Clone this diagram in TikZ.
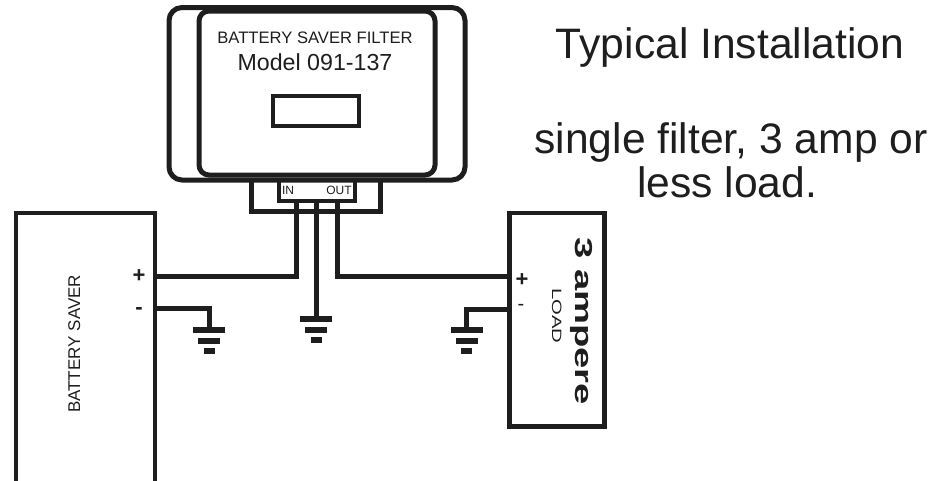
\documentclass[tikz,border=0pt]{standalone}
\usepackage{fontspec}
\setmainfont{Liberation Sans}
\definecolor{ink}{RGB}{30,30,30}
\tikzset{
  wire/.style={draw=ink, line width=5pt},
  thinbox/.style={draw=ink, line width=4pt, inner sep=0pt},
  lbl/.style={text=ink, inner sep=0pt},
  sign/.style={text=ink, inner sep=0pt, font=\bfseries\fontsize{22}{24}\selectfont},
  gnd/.pic={
    \fill[ink] (-16,0) rectangle (16,6);
    \fill[ink] (-11,10.5) rectangle (11,16.5);
    \fill[ink] (-5.5,21) rectangle (5.5,27);
  }
}
\begin{document}
\begin{tikzpicture}[x=1pt,y=-1pt]
\useasboundingbox (0,0) rectangle (942,480);
% filter housing
\node[draw=ink, line width=5pt, rounded corners=13pt, minimum width=296pt, minimum height=172.5pt, inner sep=0pt] (outer) at (317,93.75) {};
\node[draw=ink, line width=5pt, rounded corners=10pt, fill=white, minimum width=236pt, minimum height=164pt, inner sep=0pt] (inner) at (317,93) {};
\node[thinbox, minimum width=86pt, minimum height=30pt] (disp) at (316,111) {};
\node[lbl, anchor=base, font=\fontsize{16.6}{18}\selectfont] (title) at (315,43) {BATTERY SAVER FILTER};
\node[lbl, anchor=base, font=\fontsize{23.2}{25}\selectfont] (model) at (315,70) {Model 091-137};
% connector brackets
\coordinate (uL) at (251.5,180);
\coordinate (uR) at (380.5,180);
\draw[wire] (uL) |- (380.5,211) -- (uR);
\coordinate (bL) at (278.5,180);
\coordinate (bR) at (355,180);
\draw[draw=ink, line width=4pt] (bL) |- (355,201) -- (bR);
\node[lbl, anchor=base, font=\fontsize{12}{13}\selectfont] (in) at (288,194) {IN};
\node[lbl, anchor=base, font=\fontsize{12}{13}\selectfont] (out) at (339,194) {OUT};
% battery saver
\node[thinbox, minimum width=139pt, minimum height=307pt] (bat) at (85.5,366.5) {};
\node[lbl, rotate=90, anchor=base west, font=\fontsize{17}{18}\selectfont] (batlbl) at (80,413) {BATTERY SAVER};
\node[sign] (batp) at (139,276) {+};
\node[sign] (batm) at (139,311) {-};
% load
\node[draw=ink, line width=4.5pt, inner sep=0pt, minimum width=95pt, minimum height=213.5pt] (load) at (557,319.75) {};
\node[lbl, rotate=-90, anchor=base west, font=\bfseries\fontsize{24.5}{26}\selectfont] (amp) at (575,237) {\scalebox{1.56}[1]{3 ampere}};
\node[lbl, rotate=-90, anchor=base west, font=\fontsize{13.5}{14}\selectfont] (loadlbl) at (552,288) {\scalebox{1.5}[1]{LOAD}};
\node[sign] (loadp) at (522,280) {+};
\node[sign, font=\fontsize{20}{22}\selectfont] (loadm) at (521,307) {-};
% terminals
\coordinate (inT) at (296,201);
\coordinate (midT) at (316,201);
\coordinate (outT) at (337,201);
\coordinate (batP) at (155,276);
\coordinate (batM) at (155,308);
\coordinate (ldP) at (509.5,276);
\coordinate (ldM) at (509.5,309);
\coordinate (g1) at (209,327);
\coordinate (g2) at (316,316);
\coordinate (g3) at (466.5,327);
% wires
\draw[wire] (inT) |- (batP);
\draw[wire] (outT) |- (ldP);
\draw[wire] (midT) -- (g2);
\draw[wire] (batM) -| (g1);
\draw[wire] (ldM) -| (g3);
\pic at (g1) {gnd};
\pic at (g2) {gnd};
\pic at (g3) {gnd};
% caption
\node[lbl, anchor=base, font=\fontsize{42.6}{44}\selectfont] (cap1) at (730,58) {Typical Installation};
\node[lbl, anchor=base, font=\fontsize{42.6}{44}\selectfont] (cap2) at (731,153) {single filter, 3 amp or};
\node[lbl, anchor=base, font=\fontsize{42.6}{44}\selectfont] (cap3) at (727,197) {less load.};
\end{tikzpicture}
\end{document}
